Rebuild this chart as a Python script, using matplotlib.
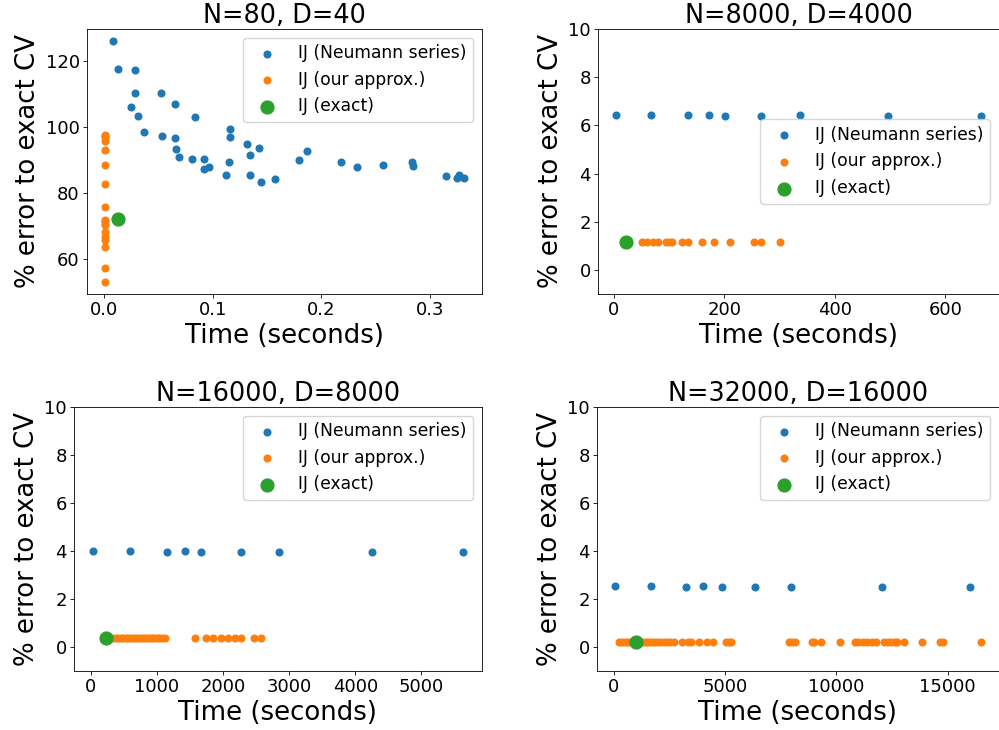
import numpy as np
import matplotlib
matplotlib.use("Agg")
import matplotlib.pyplot as plt
from matplotlib.ticker import MultipleLocator

# ── N=80, D=40 ────────────────────────────────────────────────────────────────
t80_neumann = [0.0085, 0.0132, 0.0283, 0.0283, 0.0522, 0.0245, 0.0654, 0.0314,
               0.0836, 0.0371, 0.0535, 0.0654, 0.1164, 0.1157, 0.0660, 0.0686,
               0.0808, 0.0925, 0.0925, 0.0969, 0.1151, 0.1314, 0.1340, 0.1425,
               0.1126, 0.1340, 0.1447, 0.1575, 0.1796, 0.1871, 0.2179, 0.2333,
               0.2572, 0.2836, 0.2843, 0.3151, 0.3245, 0.3264, 0.3314]
e80_neumann = [126.1, 117.6, 117.4, 110.4, 110.3, 106.0, 107.0, 103.4,
               103.0, 98.5, 97.3, 96.6, 99.4, 97.1, 93.5, 90.9,
               90.4, 90.5, 87.2, 87.9, 89.6, 95.0, 91.6, 93.7,
               85.6, 85.6, 83.4, 84.2, 90.2, 92.9, 89.6, 87.9,
               88.6, 89.3, 88.3, 85.1, 84.5, 85.6, 84.7]
t80_approx = [0.0009, 0.0010, 0.0009, 0.0010, 0.0009, 0.0009, 0.0010, 0.0009,
              0.0009, 0.0010, 0.0009, 0.0009, 0.0010, 0.0009, 0.0009, 0.0009,
              0.0009, 0.0009]
e80_approx = [97.7, 97.2, 96.9, 95.7, 93.0, 88.4, 82.9, 75.7,
              72.0, 71.5, 71.0, 70.5, 68.1, 66.8, 65.8, 63.6, 57.4, 53.1]
t80_exact = [0.0129]
e80_exact = [72.1]

# ── N=8000, D=4000 ────────────────────────────────────────────────────────────
t8k_neumann = [4.2, 67.7, 134.9, 172.9, 200.8, 265.6, 337.5, 496.1, 664.3]
e8k_neumann = [6.45, 6.42, 6.42, 6.42, 6.39, 6.39, 6.42, 6.39, 6.40]
t8k_approx = [51.1, 59.4, 70.1, 80.2, 93.9, 99.8, 105.7, 123.6, 133.7,
              159.9, 180.7, 211.0, 253.7, 265.6, 301.2]
e8k_approx = [1.17] * len(t8k_approx)
t8k_exact = [21.4]
e8k_exact = [1.17]

# ── N=16000, D=8000 ───────────────────────────────────────────────────────────
t16k_neumann = [25, 586, 1148, 1426, 1673, 2270, 2841, 4247, 5637]
e16k_neumann = [3.99, 3.99, 3.96, 3.99, 3.96, 3.96, 3.96, 3.96, 3.96]
t16k_approx = [313, 364, 415, 452, 490, 528, 566, 606, 647, 688, 728, 768,
               809, 852, 895, 928, 961, 996, 1031, 1076, 1122,
               1577, 1739, 1850, 1962, 2073, 2184, 2275, 2472, 2578]
e16k_approx = [0.39] * len(t16k_approx)
t16k_exact = [228]
e16k_exact = [0.39]

# ── N=32000, D=16000 ──────────────────────────────────────────────────────────
t32k_neumann = [75, 1657, 3269, 4000, 4851, 6358, 7970, 12030, 16000]
e32k_neumann = [2.54, 2.54, 2.51, 2.54, 2.51, 2.51, 2.51, 2.51, 2.51]
t32k_approx = [254, 373, 493, 612, 731, 851, 1075, 1194, 1313, 1433, 1552,
               1672, 1791, 1940, 2090, 2269, 2388, 2537, 2716, 3060, 3358,
               3463, 3851, 4179, 4448, 5045, 5194, 5254, 7866, 7985, 8134,
               8896, 9015, 9328, 10179, 10836, 10970, 11194, 11373, 11612,
               11761, 12119, 12328, 12463, 12612, 12716, 13015, 13851, 14657,
               14806, 16478]
e32k_approx = [0.19] * len(t32k_approx)
t32k_exact = [985]
e32k_exact = [0.19]

panels = [
    ("N=80, D=40", t80_neumann, e80_neumann, t80_approx, e80_approx, t80_exact, e80_exact),
    ("N=8000, D=4000", t8k_neumann, e8k_neumann, t8k_approx, e8k_approx, t8k_exact, e8k_exact),
    ("N=16000, D=8000", t16k_neumann, e16k_neumann, t16k_approx, e16k_approx, t16k_exact, e16k_exact),
    ("N=32000, D=16000", t32k_neumann, e32k_neumann, t32k_approx, e32k_approx, t32k_exact, e32k_exact),
]

# axes boxes in pixels: left, top, right, bottom
boxes = [(87, 29, 482, 294), (598, 29, 999, 294),
         (74, 407, 482, 671), (597, 407, 999, 671)]
legend_locs = ["upper right", "center right", "upper right", "upper right"]
x_steps = [0.1, 200, 1000, 5000]

W, H = 999, 730
fig = plt.figure(figsize=(W / 100, H / 100), dpi=100)

for (title, tn, en, ta, ea, te, ee), (l, t, r, b), loc, step in zip(panels, boxes, legend_locs, x_steps):
    ax = fig.add_axes([l / W, 1 - b / H, (r - l) / W, (b - t) / H])
    ax.scatter(tn, en, s=23, color="tab:blue", label="IJ (Neumann series)")
    ax.scatter(ta, ea, s=23, color="tab:orange", label="IJ (our approx.)")
    ax.scatter(te, ee, s=85, color="tab:green", label="IJ (exact)")
    ax.set_title(title, fontsize=18.4, pad=4.5)
    ax.set_xlabel("Time (seconds)", fontsize=18.75, labelpad=3)
    ax.set_ylabel("% error to exact CV", fontsize=18.75, labelpad=3)
    ax.tick_params(labelsize=13, length=2.6, width=0.6, pad=2.6)
    for sp in ax.spines.values():
        sp.set_linewidth(0.6)
    ax.xaxis.set_major_locator(MultipleLocator(step))
    if title != "N=80, D=40":
        ax.set_ylim(-1, 10)
    ax.legend(loc=loc, fontsize=12.3)

plt.savefig("out.png", dpi=100)
